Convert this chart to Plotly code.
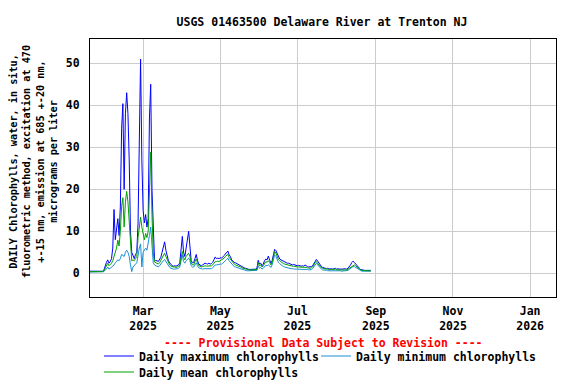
import pandas as pd
import plotly.graph_objects as go

start_date = "2025-01-18"

daily_max = [
    0.5, 0.5, 0.5, 0.5, 0.5, 0.5, 0.5, 0.5, 0.5, 0.5, 0.5,
    0.8, 2.0, 2.6, 3.2, 2.4, 2.8, 3.5, 6.0, 15.2, 8.0,
    10.0, 13.0, 9.0, 16.0, 34.4, 40.4, 20.0, 38.0, 43.0, 38.0,
    27.0, 10.0, 5.0, 4.0, 3.5, 4.5, 5.0, 12.0, 32.5, 51.0,
    27.0, 15.0, 12.0, 14.0, 11.0, 13.0, 37.0, 45.0, 20.0, 9.0,
    3.3, 3.0, 3.0, 2.8, 3.2, 3.8, 5.0, 6.0, 7.5, 5.5,
    4.0, 3.0, 2.5, 2.0, 1.8, 1.7, 1.8, 1.7, 1.8, 2.0,
    2.5, 6.0, 8.8, 5.0, 4.0, 6.0, 8.0, 10.0, 6.5, 3.0,
    2.5, 2.6, 3.5, 4.5, 3.0, 2.2, 2.0, 1.8, 2.0, 2.2,
    2.4, 2.3, 2.2, 2.4, 2.2, 2.3, 2.6, 3.2, 3.9, 3.5,
    3.6, 3.5, 3.7, 3.6, 3.8, 4.2, 4.6, 5.0, 5.3, 4.4,
    4.0, 3.2, 2.8, 2.6, 2.5, 2.3, 2.2, 2.0, 1.8, 1.6,
    1.5, 1.3, 1.2, 1.0, 1.0, 0.9, 0.9, 0.9, 0.9, 0.9, 1.0,
    1.2, 3.1, 2.2, 2.4, 1.8, 2.2, 3.0, 3.4, 3.2, 4.1,
    3.2, 2.4, 3.0, 4.5, 5.7, 5.4, 4.6, 3.8, 3.4, 3.2,
    3.0, 2.8, 2.6, 2.5, 2.4, 2.4, 2.3, 2.2, 2.0, 2.1,
    2.0, 1.9, 1.8, 1.9, 1.8, 1.7, 1.8, 1.7, 2.0, 1.7,
    1.6, 1.5, 1.5, 1.6, 1.8, 2.4, 3.0, 3.3, 2.9, 2.4,
    2.0, 1.6, 1.4, 1.3, 1.2, 1.1, 1.2, 1.0, 1.1, 1.0, 1.0, 1.1,
    1.2, 1.0, 1.1, 1.0, 1.0, 0.9, 1.0, 1.1, 1.0, 1.0,
    1.2, 1.5, 2.0, 2.6, 2.9, 2.6, 2.2, 1.8, 1.5, 1.2,
    0.9, 0.8, 0.8, 0.7, 0.7, 0.7, 0.7, 0.7, 0.7,
]

daily_mean = [
    0.4, 0.4, 0.4, 0.4, 0.4, 0.4, 0.4, 0.4, 0.4, 0.4, 0.4,
    0.6, 1.2, 1.8, 2.4, 1.8, 2.0, 2.4, 3.0, 4.0, 5.0,
    6.0, 7.9, 6.5, 10.0, 16.0, 18.0, 11.0, 17.0, 19.5, 17.0,
    12.0, 6.0, 3.0, 3.2, 3.0, 3.5, 4.0, 8.5, 11.0, 13.4,
    11.0, 9.0, 8.0, 9.5, 8.5, 10.0, 20.0, 28.9, 14.0, 5.0,
    2.7, 2.5, 2.4, 2.2, 2.5, 3.0, 3.8, 4.2, 4.8, 4.0,
    3.2, 2.5, 2.0, 1.7, 1.5, 1.5, 1.5, 1.4, 1.5, 1.6,
    2.0, 4.0, 5.2, 3.8, 3.2, 4.0, 4.5, 4.8, 4.0, 2.5,
    2.0, 2.0, 2.8, 3.4, 2.5, 1.8, 1.7, 1.5, 1.6, 1.7,
    1.8, 1.7, 1.7, 1.8, 1.7, 1.8, 2.0, 2.4, 2.8, 2.8,
    2.9, 2.8, 3.0, 3.0, 3.2, 3.6, 4.0, 4.3, 4.5, 3.8,
    3.4, 2.8, 2.4, 2.2, 2.0, 1.9, 1.8, 1.7, 1.5, 1.3,
    1.2, 1.1, 1.0, 0.9, 0.8, 0.8, 0.8, 0.8, 0.8, 0.8, 0.8,
    0.9, 2.5, 1.8, 2.0, 1.5, 1.8, 2.4, 2.8, 2.6, 3.0,
    2.6, 2.0, 2.6, 4.0, 5.2, 4.8, 4.0, 3.3, 3.0, 2.7,
    2.5, 2.3, 2.2, 2.1, 2.0, 2.0, 1.9, 1.8, 1.7, 1.7,
    1.6, 1.6, 1.5, 1.5, 1.5, 1.4, 1.5, 1.4, 1.5, 1.4,
    1.3, 1.2, 1.2, 1.3, 1.5, 2.0, 2.6, 2.8, 2.5, 2.0,
    1.6, 1.3, 1.2, 1.1, 1.0, 1.0, 1.0, 0.9, 0.9, 0.9, 0.9, 0.9,
    1.0, 0.8, 0.9, 0.8, 0.8, 0.8, 0.8, 0.9, 0.8, 0.8,
    1.0, 1.2, 1.5, 1.8, 2.0, 2.0, 1.8, 1.5, 1.2, 1.0,
    0.8, 0.7, 0.7, 0.6, 0.6, 0.6, 0.6, 0.6, 0.6,
]

daily_min = [
    0.3, 0.3, 0.3, 0.3, 0.3, 0.3, 0.3, 0.3, 0.3, 0.3, 0.3,
    0.4, 0.8, 1.0, 1.5, 1.0, 1.2, 1.4, 1.6, 2.0, 2.5,
    2.8, 3.2, 3.0, 3.5, 4.5, 4.2, 4.0, 5.0, 5.5, 5.0,
    4.0, 2.0, 0.4, 1.5, 2.0, 2.2, 2.5, 4.8, 6.0, 7.0,
    1.5, 5.0, 5.5, 6.0, 5.5, 7.0, 9.0, 11.0, 6.0, 2.5,
    2.0, 1.8, 1.6, 1.5, 1.8, 2.2, 2.8, 3.0, 3.3, 2.8,
    2.2, 1.8, 1.4, 1.2, 1.0, 1.0, 1.0, 1.0, 1.1, 1.2,
    1.5, 3.0, 4.3, 2.8, 2.4, 3.0, 3.2, 3.6, 3.0, 1.8,
    1.5, 1.5, 2.0, 2.5, 1.8, 1.3, 1.2, 1.0, 1.0, 1.1,
    1.1, 1.0, 1.0, 1.1, 1.0, 1.1, 1.3, 1.6, 2.0, 2.0,
    2.0, 2.1, 2.2, 2.2, 2.4, 2.8, 3.0, 3.3, 3.6, 3.0,
    2.6, 2.2, 1.8, 1.6, 1.5, 1.4, 1.3, 1.2, 1.0, 0.9,
    0.8, 0.8, 0.7, 0.6, 0.6, 0.6, 0.6, 0.6, 0.6, 0.6, 0.6,
    0.7, 1.8, 1.2, 1.4, 1.0, 1.2, 1.6, 1.9, 1.8, 2.0,
    1.8, 1.4, 2.0, 3.2, 4.4, 4.0, 3.2, 2.6, 2.3, 2.0,
    1.8, 1.6, 1.5, 1.4, 1.3, 1.2, 1.2, 1.1, 1.1, 1.0,
    1.0, 1.0, 1.0, 1.0, 1.0, 0.9, 1.0, 0.9, 1.0, 0.9,
    0.9, 0.8, 0.8, 0.9, 1.1, 1.6, 2.2, 2.4, 2.0, 1.6,
    1.2, 1.0, 0.8, 0.8, 0.7, 0.7, 0.6, 0.6, 0.6, 0.6, 0.6, 0.6,
    0.7, 0.6, 0.6, 0.6, 0.6, 0.5, 0.6, 0.6, 0.6, 0.6,
    0.7, 0.9, 1.2, 1.4, 1.6, 1.6, 1.4, 1.1, 0.9, 0.7,
    0.6, 0.5, 0.5, 0.5, 0.5, 0.5, 0.5, 0.5, 0.5,
]

series_names = ["Daily maximum chlorophylls", "Daily minimum chlorophylls", "Daily mean chlorophylls"]
title_text = "USGS 01463500 Delaware River at Trenton NJ"
y_title = ("DAILY Chlorophylls, water, in situ,<br>fluorometric method, excitation at 470"
           "<br>+-15 nm, emission at 685 +-20 nm,<br>micrograms per liter")
notice = "---- Provisional Data Subject to Revision ----"

dates = pd.date_range(start_date, periods=len(daily_max), freq="D")

FONT = "DejaVu Sans Mono"
fs = 11.5
W, H = 576, 384
# the page body adds an 8px offset; compensate so the picture lands where intended
OFF = 8
PL, PT, PW, PH = 90 - OFF, 39 - OFF, 466, 258

fig = go.Figure()
fig.add_trace(go.Scatter(x=dates, y=daily_max, mode="lines", name=series_names[0],
                         line=dict(color="#0000ff", width=1), legend="legend"))
fig.add_trace(go.Scatter(x=dates, y=daily_min, mode="lines", name=series_names[1],
                         line=dict(color="#1a8fd6", width=1), legend="legend2"))
fig.add_trace(go.Scatter(x=dates, y=daily_mean, mode="lines", name=series_names[2],
                         line=dict(color="#00a000", width=1), legend="legend3"))


def leg(px_x, px_y):
    return dict(orientation="h", xref="container", yref="container",
                xanchor="left", x=(px_x - OFF) / W, yanchor="middle", y=1 - (px_y - OFF) / H,
                font=dict(family=FONT, size=fs, color="black", weight="bold"),
                bgcolor="rgba(0,0,0,0)", borderwidth=0)


fig.update_layout(
    width=W, height=H,
    margin=dict(l=PL, r=W - PL - PW, t=PT, b=H - PT - PH),
    paper_bgcolor="white", plot_bgcolor="white",
    font=dict(family=FONT, size=fs, color="black", weight="bold"),
    title=dict(text=title_text, x=(322 - OFF) / W, xref="container", xanchor="center",
               y=1 - 14 / H, yref="container", yanchor="middle",
               font=dict(family=FONT, size=fs, color="black", weight="bold")),
    showlegend=True,
    legend=leg(99, 356),
    legend2=leg(316, 356),
    legend3=leg(99, 372),
    xaxis=dict(type="date", range=["2025-01-18", "2026-01-21 11:00"],
               tick0="2025-03-01", dtick="M2", tickformat="%b<br>%Y",
               showgrid=True, gridcolor="#cccccc", gridwidth=1,
               showline=True, mirror=True, linecolor="black", linewidth=1,
               ticks="", zeroline=False, ticklabelstandoff=3, automargin=False,
               tickfont=dict(family=FONT, size=fs, color="black", weight="bold")),
    yaxis=dict(range=[-5.64, 55.79], tick0=0, dtick=10,
               showgrid=True, gridcolor="#cccccc", gridwidth=1,
               showline=True, mirror=True, linecolor="black", linewidth=1,
               ticks="", zeroline=False, ticklabelstandoff=7, automargin=False,
               tickfont=dict(family=FONT, size=fs, color="black", weight="bold")),
    annotations=[
        dict(text=y_title, xref="paper", yref="paper", x=(33 - 90) / PW, y=(297 - 162) / PH,
             xanchor="center", yanchor="middle", textangle=-90, showarrow=False,
             font=dict(family=FONT, size=10.2, color="black", weight="bold")),
        dict(text=notice, xref="paper", yref="paper", x=0.5, y=(297 - 343) / PH,
             xanchor="center", yanchor="middle", showarrow=False,
             font=dict(family=FONT, size=fs, color="red", weight="bold")),
    ],
)

fig.write_html("out.html")
